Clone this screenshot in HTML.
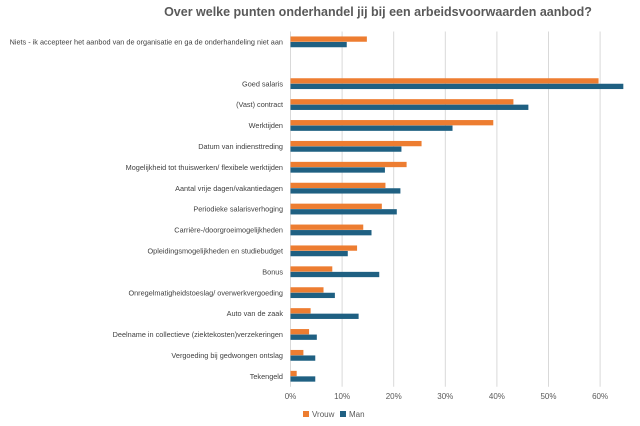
<!DOCTYPE html>
<html><head><meta charset="utf-8"><style>
body{margin:0;background:#fff;font-family:"Liberation Sans",sans-serif;}
svg text{font-family:"Liberation Sans",sans-serif;}
</style></head><body>
<svg width="640" height="421" xmlns="http://www.w3.org/2000/svg">
<text x="378" y="16" text-anchor="middle" font-size="12.5" font-weight="bold" fill="#595959">Over welke punten onderhandel jij bij een arbeidsvoorwaarden aanbod?</text>
<g id="grid"></g>
<g id="bars"></g>
<g id="labels"></g>
<g id="ticks"></g>
<g>
<rect x="303" y="411" width="6" height="6" fill="#ED7D31"/>
<text x="312" y="417" font-size="8" fill="#595959">Vrouw</text>
<rect x="340" y="411" width="6" height="6" fill="#1F6082"/>
<text x="349" y="417" font-size="8" fill="#595959">Man</text>
</g>
</svg>
<script>
const categories=["Niets - ik accepteer het aanbod van de organisatie en ga de onderhandeling niet aan","","Goed salaris","(Vast) contract","Werktijden","Datum van indiensttreding","Mogelijkheid tot thuiswerken/ flexibele werktijden","Aantal vrije dagen/vakantiedagen","Periodieke salarisverhoging","Carrière-/doorgroeimogelijkheden","Opleidingsmogelijkheden en studiebudget","Bonus","Onregelmatigheidstoeslag/ overwerkvergoeding","Auto van de zaak","Deelname in collectieve (ziektekosten)verzekeringen","Vergoeding bij gedwongen ontslag","Tekengeld"];
const vrouw=[14.8,null,59.7,43.2,39.3,25.4,22.5,18.4,17.7,14.1,12.9,8.1,6.4,3.9,3.6,2.5,1.2];
const man=[10.9,null,64.5,46.1,31.4,21.5,18.3,21.3,20.6,15.7,11.1,17.2,8.6,13.2,5.1,4.8,4.8];
const tickValues=[0,10,20,30,40,50,60];
const tickLabels=["0%","10%","20%","30%","40%","50%","60%"];
const NS="http://www.w3.org/2000/svg";
const x0=290.5,pxPer=5.16,top0=31.5,slot=20.9;
const xs=v=>x0+v*pxPer;
const ys=i=>top0+i*slot;
function mk(t,a,p){const e=document.createElementNS(NS,t);for(const k in a)e.setAttribute(k,a[k]);p.appendChild(e);return e;}
const grid=document.getElementById('grid'),bars=document.getElementById('bars'),labels=document.getElementById('labels'),ticks=document.getElementById('ticks');
tickValues.forEach((v,i)=>{
 const l=mk('line',{x1:xs(v),x2:xs(v),y1:top0,y2:ys(categories.length),stroke:'#d9d9d9','stroke-width':1},grid);
 
 
 const t=mk('text',{x:xs(v),y:399,'text-anchor':'middle','font-size':8,fill:'#595959'},ticks);
 t.textContent=tickLabels[i];
 
 
});
categories.forEach((c,i)=>{
 const cy=ys(i)+slot/2;
 if(c){
  const t=mk('text',{x:283,y:cy+2.5,'text-anchor':'end','font-size':7.3,fill:'#404040'},labels);
  t.textContent=c;
  
  
 }
 if(vrouw[i]!=null){
  const r=mk('rect',{x:x0,y:cy-5.5,width:xs(vrouw[i])-x0,height:5.3,fill:'#ED7D31'},bars);
  
  
 }
 if(man[i]!=null){
  const r=mk('rect',{x:x0,y:cy,width:xs(man[i])-x0,height:5.3,fill:'#1F6082'},bars);
  
  
 }
});
</script>
</body></html>
